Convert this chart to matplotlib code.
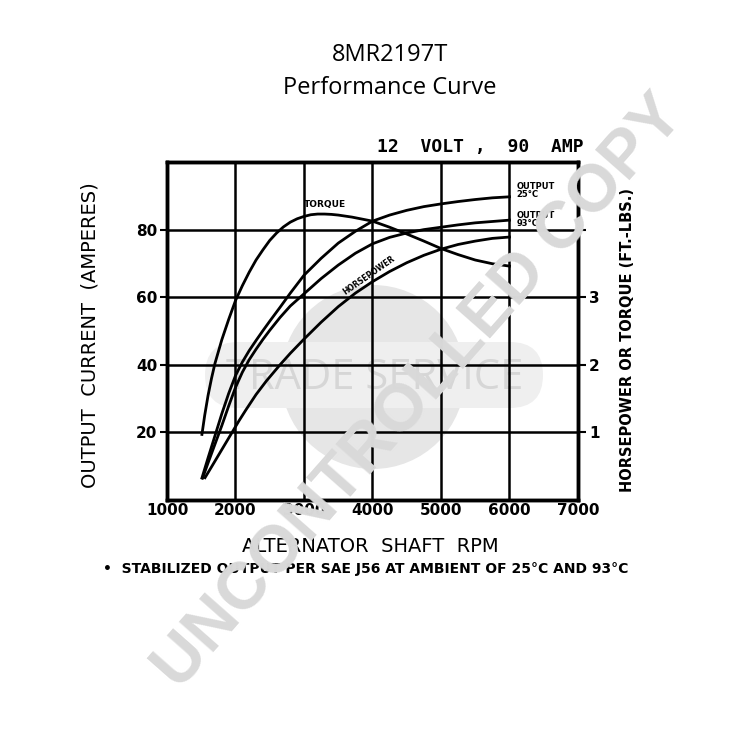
import matplotlib
matplotlib.use("Agg")
import matplotlib.pyplot as plt
import matplotlib.patches as mpatches

# ---------------- data ----------------
x_ticks = [1000, 2000, 3000, 4000, 5000, 6000, 7000]
y_ticks_left = [20, 40, 60, 80]
y_ticks_right = [1, 2, 3, 4]
y_ticklabels_right = ["1", "2", "3", ""]

# Output current, amperes
rpm_out25 = [1510, 1600, 1700, 1800, 1900, 2000, 2100, 2200, 2300, 2400, 2500,
             2650, 2800, 3000, 3250, 3500, 3750, 4000, 4250, 4500, 4750, 5000,
             5250, 5500, 5750, 6000]
amp_out25 = [6.5, 12.5, 19, 25.5, 31.5, 36.8, 40.8, 44.2, 47.2, 50.1, 52.9,
             57, 61.2, 66.5, 71.5, 76, 79.5, 82.5, 84.3, 85.7, 86.8, 87.6,
             88.3, 88.9, 89.4, 89.7]

rpm_out93 = [1520, 1600, 1700, 1800, 1900, 2000, 2100, 2200, 2300, 2400, 2500,
             2650, 2800, 3000, 3250, 3500, 3750, 4000, 4250, 4500, 4750, 5000,
             5250, 5500, 5750, 6000]
amp_out93 = [6.5, 11, 16.5, 22, 27.8, 33.3, 37.8, 41.5, 44.6, 47.5, 50.2,
             54, 57.4, 61, 65.5, 69.5, 73, 75.8, 77.7, 79, 80, 80.7,
             81.4, 82, 82.4, 82.8]

# Horsepower (right scale)
rpm_hp = [1555, 1650, 1750, 1850, 1950, 2050, 2150, 2300, 2450, 2650, 2800,
          3000, 3250, 3500, 3750, 4000, 4250, 4500, 4750, 5000, 5250, 5500,
          5750, 6000]
hp = [0.33, 0.49, 0.66, 0.83, 1.0, 1.17, 1.33, 1.56, 1.76, 2.0, 2.17,
      2.38, 2.63, 2.86, 3.06, 3.23, 3.38, 3.51, 3.62, 3.71, 3.78, 3.83,
      3.87, 3.89]

# Torque, ft-lbs (right scale)
rpm_torque = [1510, 1550, 1600, 1650, 1700, 1800, 1900, 2000, 2100, 2200, 2300,
              2400, 2500, 2600, 2700, 2800, 2900, 3000, 3100, 3200, 3300, 3400,
              3500, 3600, 3700, 3800, 3900, 4000, 4250, 4500, 4750, 5000, 5250,
              5500, 5750, 6000]
torque = [0.97, 1.25, 1.55, 1.8, 2.02, 2.37, 2.67, 2.95, 3.17, 3.37, 3.55,
          3.7, 3.84, 3.95, 4.04, 4.11, 4.16, 4.195, 4.22, 4.23, 4.23, 4.225,
          4.215, 4.2, 4.185, 4.165, 4.145, 4.125, 4.035, 3.935, 3.83, 3.72,
          3.63, 3.55, 3.495, 3.46]

# ---------------- figure ----------------
fig = plt.figure(figsize=(7.5, 7.5), dpi=100)
fig.patch.set_facecolor("white")

# background watermark logo (behind the chart)
bg = fig.add_axes([0, 0, 1, 1], zorder=-5)
bg.set_xlim(0, 750)
bg.set_ylim(750, 0)
bg.axis("off")
bg.add_patch(mpatches.Circle((373, 377), 92, color="#e6e6e6", lw=0))
bg.add_patch(mpatches.FancyBboxPatch((205, 342), 338, 66,
                                     boxstyle="round,pad=0,rounding_size=33",
                                     color="#efefef", lw=0))
bg.text(375, 378, "TRADE SERVICE", ha="center", va="center", fontsize=30,
        family="Open Sans", color="#d6d6d6")

ax = fig.add_axes([167 / 750, 250 / 750, 411 / 750, 338 / 750], zorder=1)
ax.set_facecolor("none")
ax.set_xlim(1000, 7000)
ax.set_ylim(0, 100)
ax.set_xticks(x_ticks)
ax.set_xticklabels([str(v) for v in x_ticks], fontsize=11, fontweight="bold",
                   family="DejaVu Sans")
ax.set_yticks(y_ticks_left)
ax.set_yticklabels([str(v) for v in y_ticks_left], fontsize=11,
                   fontweight="bold", family="DejaVu Sans")
ax.tick_params(axis="x", length=0, pad=2)
ax.tick_params(axis="y", length=5, width=1.5, pad=2, direction="out")
for v in [2000, 3000, 4000, 5000, 6000]:
    ax.axvline(v, color="black", lw=1.8, zorder=1)
for v in y_ticks_left:
    ax.axhline(v, color="black", lw=1.8, zorder=1)
for s in ax.spines.values():
    s.set_linewidth(2.5)

ax.plot(rpm_out25, amp_out25, color="black", lw=2, zorder=3)
ax.plot(rpm_out93, amp_out93, color="black", lw=2, zorder=3)

ax2 = ax.twinx()
ax2.set_zorder(2)
ax2.set_facecolor("none")
ax2.set_ylim(0, 5)
ax2.set_yticks(y_ticks_right)
ax2.set_yticklabels(y_ticklabels_right, fontsize=11, fontweight="bold",
                    family="DejaVu Sans")
ax2.tick_params(axis="y", length=6, width=1.5, pad=2, direction="out")
for s in ax2.spines.values():
    s.set_linewidth(2.5)
ax2.plot(rpm_hp, hp, color="black", lw=2, zorder=3)
ax2.plot(rpm_torque, torque, color="black", lw=2, zorder=3)

# curve labels
ax.text(3300, 87.5, "TORQUE", fontsize=6.5, fontweight="bold",
        ha="center", va="center")
ax.text(6100, 91.5, "OUTPUT\n25°C", fontsize=6, fontweight="bold",
        ha="left", va="center", linespacing=0.9)
ax.text(6100, 83.0, "OUTPUT\n93°C", fontsize=6, fontweight="bold",
        ha="left", va="center", linespacing=0.9)
ax.text(3950, 66.5, "HORSEPOWER", fontsize=5.5, fontweight="bold",
        ha="center", va="center", rotation=35)

# axis titles
fig.text(90 / 750, 1 - 335 / 750, "OUTPUT  CURRENT  (AMPERES)", rotation=90,
         ha="center", va="center", fontsize=14, family="DejaVu Sans")
fig.text(627 / 750, 1 - 340 / 750, "HORSEPOWER OR TORQUE (FT.-LBS.)",
         rotation=90, ha="center", va="center", fontsize=10.5,
         fontweight="bold", family="DejaVu Sans")
fig.text(370 / 750, 1 - 547 / 750, "ALTERNATOR  SHAFT  RPM", ha="center",
         va="center", fontsize=14, family="DejaVu Sans")
fig.text(366 / 750, 1 - 569 / 750,
         "•  STABILIZED OUTPUT PER SAE J56 AT AMBIENT OF 25°C AND 93°C",
         ha="center", va="center", fontsize=10, fontweight="bold",
         family="DejaVu Sans")

# titles
fig.text(390 / 750, 1 - 55 / 750, "8MR2197T", ha="center", va="center",
         fontsize=17, family="Open Sans")
fig.text(390 / 750, 1 - 88 / 750, "Performance Curve", ha="center",
         va="center", fontsize=17, family="Open Sans")
fig.text(480 / 750, 1 - 147 / 750, "12  VOLT ,  90  AMP", ha="center",
         va="center", fontsize=13, family="DejaVu Sans Mono",
         fontweight="bold")

# diagonal watermark on top
fig.text(420 / 750, 1 - 393 / 750, "UNCONTROLLED COPY", rotation=48.6,
         rotation_mode="anchor", ha="center", va="center", fontsize=48,
         fontweight="bold", family="Liberation Sans", color="#d9d9d9",
         zorder=20)

fig.savefig("out.png", dpi=100)
